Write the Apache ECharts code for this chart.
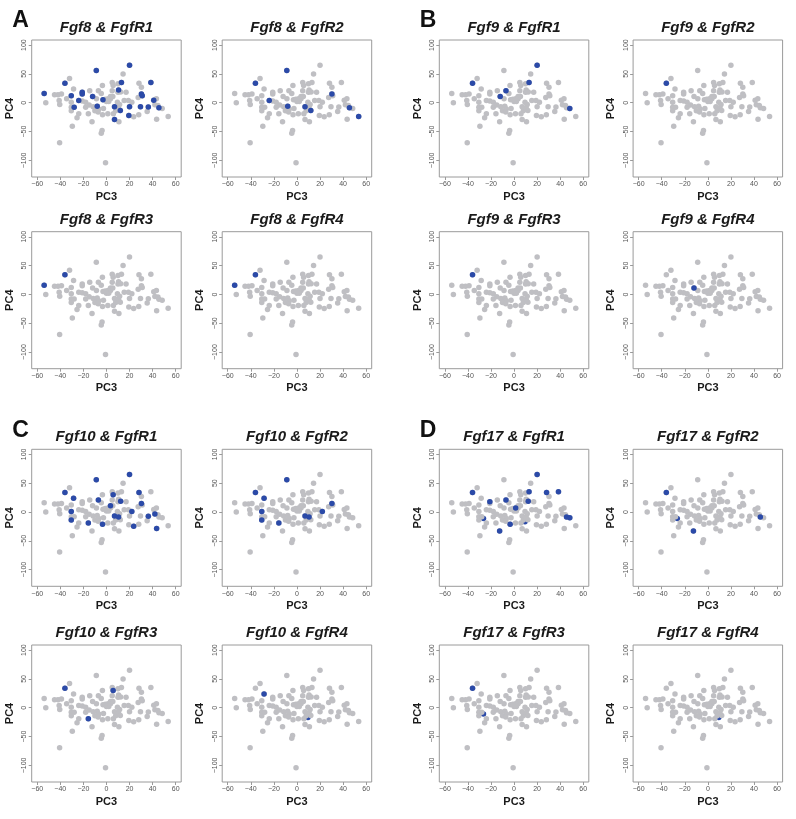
<!DOCTYPE html>
<html>
<head>
<meta charset="utf-8">
<script src="https://cdn.jsdelivr.net/npm/echarts@6/dist/echarts.min.js"></script>
<style>
  html, body { margin: 0; padding: 0; background: #ffffff; }
  #chart { width: 796px; height: 819px; }
</style>
</head>
<body>
<div id="chart"></div>
<script>
// ---------------- DATA ----------------
// Background samples (PC3, PC4)
const pc3 = [-54,-52.6,-45,-42,-39,-41,-40.5,-36,-32,-34.5,
  -28.5,-30.5,-30.5,-30.5,-30.5,-28,-25.5,-29.6,-40.6,-21,
  -21,-24,-21,-24,-18,-18,-15.7,-14.5,-12,-15,
  -12.5,-8.8,-7,-8.7,-11.5,-8,-6.7,-10,-4.5,-3.5,
  -3,-2.6,-7.2,-3.4,-3.8,-4.5,-0.8,0,1.2,3.5,
  3.5,5,5.8,5,5.5,6,7,7,8,10,
  10,10.5,9.5,10.5,11.4,10.8,13,14.4,15.4,17,
  12,19,20,22,20,19.4,23.6,28,28.2,30.3,
  30.3,31,27.5,29.5,35.3,36.3,38.5,41,43.3,42,
  44.6,45.5,48.3,43.5,53.5,12.3,1.4,2,-1];
const pc4 = [16,0,14,14,15,4,-3,34,42,7,
  24,12,1,-8,-14,-8,-26,-41,-69.5,18,
  15,4,3,-19,1,-8,-19,21,11,-4,
  -33,56,21,7,-7,-6,-11,-14,16,30,
  5,-10,-16,-21,-48,-53,-104,2,-19,7,
  11,35,30,21,11,-19,-7,-29,-14,33,
  18,22,1,-8.5,-3,-33,35,50,4,18,
  -13.5,4,65,1,-7,-22,-24.5,-21,34,27,
  15,12,9,-7,-15,-7.5,35,4.5,7,-3.5,
  -4.6,-8.5,-10,-28.5,-24,18.5,7,2,6];

// Highlighted (co-expressing) samples per panel [PC3, PC4]
const fgf8R1 = [[-54,16],[-36,34],[-30.5,12],[-21,18],[-21,15],[-24,4],[-28,-8],[-12,11],[-8.8,56],[-8,-6],[-3,5],[7,-7],[7,-29],[10.5,22],[13,35],[12,-13.5],[20,65],[20,-7],[19.4,-22],[29.5,-7],[30.3,15],[31,12],[36.3,-7.5],[38.5,35],[41,4.5],[45.5,-8.5]];
const fgf8R2 = [[-36,34],[-24,4],[-8.8,56],[-8,-6],[7,-7],[12,-13.5],[30.3,15],[45.5,-8.5],[53.5,-24]];
const fgf8R3 = [[-54,16],[-36,34]];
const fgf8R4 = [[-54,16],[-36,34]];
const fgf9R1 = [[-36,34],[-7,21],[-12,11],[13,35],[20,65],[48.3,-10]];
const fgf9R2 = [[-36,34]];
const fgf9R3 = [[-36,34]];
const fgf9R4 = [[-12,11]];
const fgf10R1 = [[-36,34],[-28.5,24],[-30.5,1],[-30.5,-14],[-15.7,-19],[-8.8,56],[-7,21],[-3.4,-21],[5.8,30],[3.5,11],[7,-7],[10.5,-8.5],[12.3,18.5],[20,65],[22,1],[23.6,-24.5],[28.2,34],[30.3,15],[36.3,-7.5],[42,-3.5],[43.5,-28.5]];
const fgf10R2 = [[-36,34],[-28.5,24],[-30.5,1],[-30.5,-14],[-15.7,-19],[-8.8,56],[7,-7],[10.5,-8.5],[22,1],[30.3,15]];
const fgf10R3 = [[-36,34],[5.8,30],[-15.7,-19]];
const fgf10R4 = [[-28.5,24]];
const fgf17R1 = [[-36,34],[-21,18],[-7,21],[-12.5,-33],[-3.4,-21],[1.4,7],[13,35],[12.3,18.5],[20,65],[28.2,34],[38.5,35],[45.5,-8.5],[48.3,-10]];
const fgf17R2 = [[-36,34],[-12.5,-33],[45.5,-8.5]];
const fgf17R3 = [[-36,34]];
const fgf17R4 = [];
// Highlighted samples that lie mostly underneath grey ones
const hidden10R4 = [[9.5,-17]];
const hidden17R1 = [[-26.5,-11],[9.5,-17]];
const hidden17R2 = [[-26.5,-11]];
const hidden17R3 = [[-26.5,-11]];
const hidden17R4 = [[9.5,-17]];

const xTickValues = [-60,-40,-20,0,20,40,60];
const yTickValues = [-100,-50,0,50,100];

const panels = [
  {title:'Fgf8 & FgfR1', hi:fgf8R1, lo:[], col:0, row:0},
  {title:'Fgf8 & FgfR2', hi:fgf8R2, lo:[], col:1, row:0},
  {title:'Fgf9 & FgfR1', hi:fgf9R1, lo:[], col:2, row:0},
  {title:'Fgf9 & FgfR2', hi:fgf9R2, lo:[], col:3, row:0},
  {title:'Fgf8 & FgfR3', hi:fgf8R3, lo:[], col:0, row:1},
  {title:'Fgf8 & FgfR4', hi:fgf8R4, lo:[], col:1, row:1},
  {title:'Fgf9 & FgfR3', hi:fgf9R3, lo:[], col:2, row:1},
  {title:'Fgf9 & FgfR4', hi:fgf9R4, lo:[], col:3, row:1},
  {title:'Fgf10 & FgfR1', hi:fgf10R1, lo:[], col:0, row:2},
  {title:'Fgf10 & FgfR2', hi:fgf10R2, lo:[], col:1, row:2},
  {title:'Fgf17 & FgfR1', hi:fgf17R1, lo:hidden17R1, col:2, row:2},
  {title:'Fgf17 & FgfR2', hi:fgf17R2, lo:hidden17R2, col:3, row:2},
  {title:'Fgf10 & FgfR3', hi:fgf10R3, lo:[], col:0, row:3},
  {title:'Fgf10 & FgfR4', hi:fgf10R4, lo:hidden10R4, col:1, row:3},
  {title:'Fgf17 & FgfR3', hi:fgf17R3, lo:hidden17R3, col:2, row:3},
  {title:'Fgf17 & FgfR4', hi:fgf17R4, lo:hidden17R4, col:3, row:3}
];
const letters = [{t:'A', col:0, row:0},{t:'B', col:2, row:0},{t:'C', col:0, row:2},{t:'D', col:2, row:2}];

// ---------------- LAYOUT ----------------
const colLeft = [31.7, 222.2, 439.3, 633.1];
const rowTop = [40, 231.7, 449.3, 645];
const W = 149.5, H = 137;
const GREY = '#bfbfc3', BLUE = '#2b4aa8', FRAME = '#9a9a9a', FONT = '"Liberation Sans", Arial, Helvetica, sans-serif';

const greyData = pc3.map((x, i) => [x, pc4[i]]);
const fmt = v => String(v).replace('-', '\u2212');

const grid = [], xAxis = [], yAxis = [], series = [], graphic = [];
panels.forEach((p, i) => {
  const L = colLeft[p.col], T = rowTop[p.row];
  grid.push({left: L, top: T, width: W, height: H, show: true, borderColor: FRAME, borderWidth: 1, backgroundColor: 'transparent', containLabel: false});
  xAxis.push({
    type: 'value', gridIndex: i, min: -64.8, max: 64.8,
    splitLine: {show: false},
    axisLine: {show: false, onZero: false},
    axisTick: {show: true, inside: false, length: 3, customValues: xTickValues, lineStyle: {color: FRAME, width: 1}},
    axisLabel: {show: true, customValues: xTickValues, fontSize: 7, color: '#555', margin: 4, fontFamily: FONT, formatter: fmt}
  });
  yAxis.push({
    type: 'value', gridIndex: i, min: -128.8, max: 108.8,
    splitLine: {show: false},
    axisLine: {show: false, onZero: false},
    axisTick: {show: true, inside: false, length: 3, customValues: yTickValues, lineStyle: {color: FRAME, width: 1}},
    axisLabel: {show: true, customValues: yTickValues, fontSize: 7, color: '#555', margin: 4, rotate: 90, fontFamily: FONT, formatter: fmt}
  });
  if (p.lo.length) {
    series.push({type: 'scatter', xAxisIndex: i, yAxisIndex: i, data: p.lo, symbolSize: 5.5, itemStyle: {color: BLUE, opacity: 1}, silent: true, z: 2});
  }
  series.push({type: 'scatter', xAxisIndex: i, yAxisIndex: i, data: greyData, symbolSize: 5.5, itemStyle: {color: GREY, opacity: 1}, silent: true, z: 3});
  series.push({type: 'scatter', xAxisIndex: i, yAxisIndex: i, data: p.hi, symbolSize: 5.5, itemStyle: {color: BLUE, opacity: 1}, silent: true, z: 4});

  graphic.push({type: 'text', x: L + W / 2, y: T - 12.3, style: {text: p.title, fontSize: 15, fontWeight: 'bold', fontStyle: 'italic', fontFamily: FONT, fill: '#1a1a1a', align: 'center', verticalAlign: 'middle'}});
  graphic.push({type: 'text', x: L + W / 2, y: T + H + 19.5, style: {text: 'PC3', fontSize: 11, fontWeight: 'bold', fontFamily: FONT, fill: '#1a1a1a', align: 'center', verticalAlign: 'middle'}});
  graphic.push({type: 'text', x: L - 21.8, y: T + H / 2, rotation: Math.PI / 2, style: {text: 'PC4', fontSize: 11, fontWeight: 'bold', fontFamily: FONT, fill: '#1a1a1a', align: 'center', verticalAlign: 'middle'}});
});
letters.forEach(l => {
  const L = colLeft[l.col], T = rowTop[l.row];
  graphic.push({type: 'text', x: L - 19.5, y: T - 19, style: {text: l.t, fontSize: 23, fontWeight: 'bold', fontFamily: FONT, fill: '#111', align: 'left', verticalAlign: 'middle'}});
});

const chart = echarts.init(document.getElementById('chart'), null, {renderer: 'canvas'});
chart.setOption({
  animation: false,
  backgroundColor: '#ffffff',
  grid, xAxis, yAxis, series, graphic
});
</script>
</body>
</html>
